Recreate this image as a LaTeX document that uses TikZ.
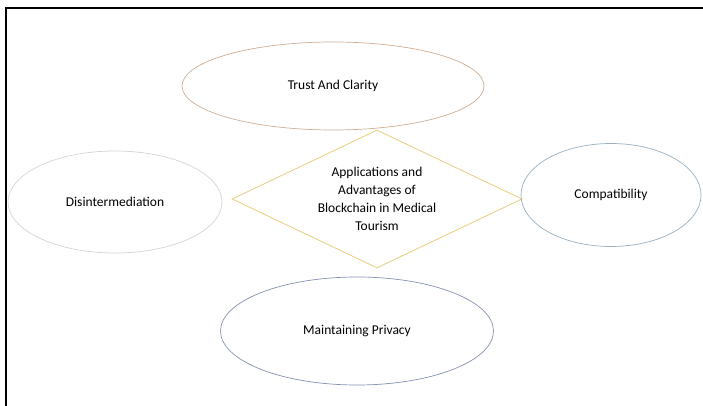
\documentclass[tikz,border=0pt]{standalone}
\usepackage{fontspec}
\setmainfont{Carlito}
\usepackage{tikz}
\usetikzlibrary{%
  shapes.geometric%
}
\definecolor{trustcol}{HTML}{CDAE95}
\definecolor{disintcol}{HTML}{D4D4D4}
\definecolor{compatcol}{HTML}{9AAFC0}
\definecolor{privcol}{HTML}{8591B2}
\definecolor{hubcol}{HTML}{E4CF7C}
\tikzset{
  oval/.style={ellipse,draw,line width=0.7pt,inner sep=0pt,
    font=\fontsize{13.5}{18}\selectfont},
  hub/.style={diamond,draw=hubcol,line width=0.8pt,inner sep=0pt,aspect=2.1}
}

\begin{document}
\begin{tikzpicture}[x=1pt,y=1pt]
  \useasboundingbox (0,0) rectangle (703,406);
  \draw[line width=2pt] (6,0) -- (6,398) -- (703,398);
  \node[hub,minimum width=290pt,minimum height=138pt] (center) at (377,207) {};
  \node[align=center,font=\fontsize{13.5}{18}\selectfont] (centertext) at (center)
  {Applications and\\Advantages of\\Blockchain in Medical\\Tourism};
  \node[oval,draw=trustcol,minimum width=302pt,minimum height=88pt] (trust) at (333,320) {Trust And Clarity};
  \node[oval,draw=disintcol,minimum width=214pt,minimum height=102pt] (disint) at (115,204) {Disintermediation};
  \node[oval,draw=compatcol,minimum width=180pt,minimum height=103pt] (compat) at (611,211) {Compatibility};
  \node[oval,draw=privcol,minimum width=273pt,minimum height=108pt] (privacy) at (357,75) {Maintaining Privacy};
\end{tikzpicture}
\end{document}
